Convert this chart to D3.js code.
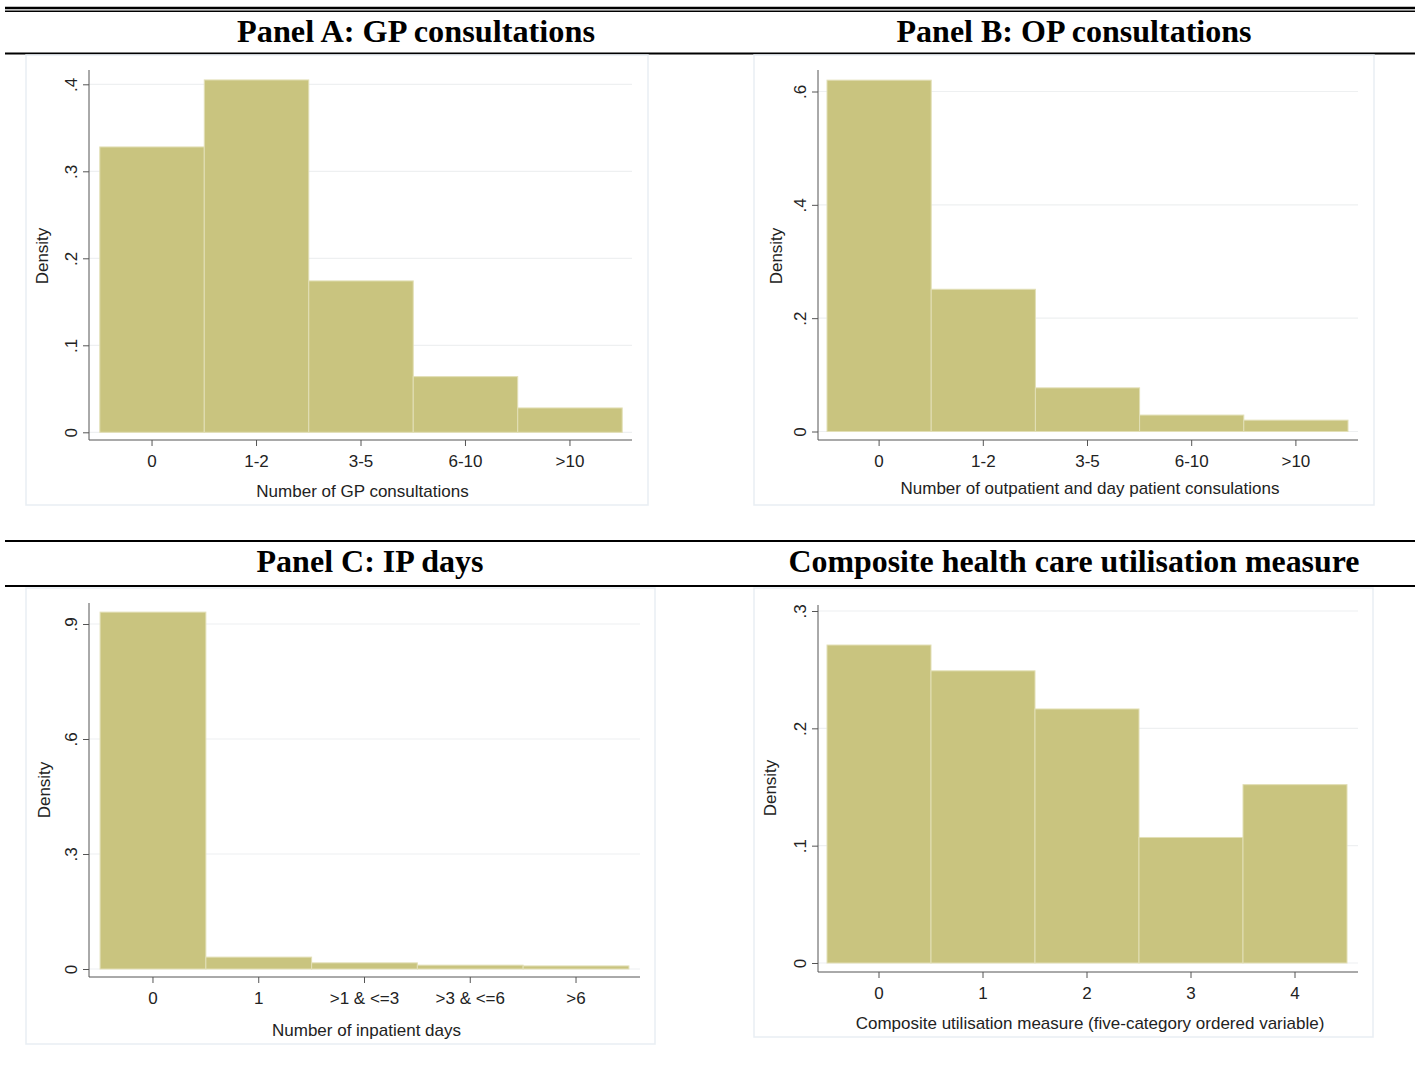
<!DOCTYPE html>
<html lang="en">
<head>
<meta charset="UTF-8">
<title>Health care utilisation histograms</title>
<script src="https://d3js.org/d3.v7.min.js"></script>
<style>
    body { margin: 0; background: #fff; }
    svg { display: block; }
    .panel-title { font-family: "Liberation Serif", "Times New Roman", serif; font-weight: bold; font-size: 31px; fill: #000; }
    .axis text, .axis-title { font-family: "Liberation Sans", Arial, sans-serif; font-size: 17px; fill: #222; }
    .bar { fill: #c9c47f; stroke: #e2dfb6; stroke-width: 1; }
    .grid line { stroke: #eef0f1; stroke-width: 1.2; }
    .axis line { stroke: #555; }
</style>
</head>
<body>
<svg id="fig" width="1424" height="1078"></svg>
<script>
// data
const gpCats = ["0", "1-2", "3-5", "6-10", ">10"];
const gpDensity = [0.328, 0.405, 0.174, 0.064, 0.028];
const gpTicks = [0, 0.1, 0.2, 0.3, 0.4];

const opCats = ["0", "1-2", "3-5", "6-10", ">10"];
const opDensity = [0.620, 0.251, 0.077, 0.029, 0.020];
const opTicks = [0, 0.2, 0.4, 0.6];

const ipCats = ["0", "1", ">1 & <=3", ">3 & <=6", ">6"];
const ipDensity = [0.931, 0.031, 0.016, 0.010, 0.008];
const ipTicks = [0, 0.3, 0.6, 0.9];

const compCats = ["0", "1", "2", "3", "4"];
const compDensity = [0.271, 0.249, 0.2165, 0.107, 0.152];
const compTicks = [0, 0.1, 0.2, 0.3];

const fmt = v => v === 0 ? "0" : d3.format(".1f")(v).replace(/^0/, "");

const svg = d3.select("#fig");

// table rules
const rules = [
    {y: 8, w: 2.6}, {y: 11.3, w: 1.4},
    {y: 53.5, w: 1.8},
    {y: 541, w: 2}, {y: 586, w: 1.8}
];
svg.selectAll(".rule").data(rules).enter().append("line")
    .attr("x1", 5).attr("x2", 1415)
    .attr("y1", d => d.y).attr("y2", d => d.y)
    .attr("stroke", "#000").attr("stroke-width", d => d.w);

const panels = [
    {title: "Panel A: GP consultations", tx: 416, ty: 42, tlen: 358,
     cats: gpCats, vals: gpDensity, ticks: gpTicks, ymax: 0.4,
     xlab: "Number of GP consultations",
     box: [26, 55, 648, 505], axisX: 89, axisY: 440, axisTop: 70, axisRight: 632,
     y0: 432.3, yTop: 84.3, barL: 99.8, barR: 622.2, xlabY: 497, denX: 48, denY: 256},
    {title: "Panel B: OP consultations", tx: 1074, ty: 42, tlen: 355,
     cats: opCats, vals: opDensity, ticks: opTicks, ymax: 0.6,
     xlab: "Number of outpatient and day patient consulations",
     box: [754, 55, 1374, 505], axisX: 818, axisY: 440, axisTop: 70, axisRight: 1358,
     y0: 431.5, yTop: 91.5, barL: 827, barR: 1348, xlabY: 494, denX: 782, denY: 256},
    {title: "Panel C: IP days", tx: 370, ty: 572, tlen: 227,
     cats: ipCats, vals: ipDensity, ticks: ipTicks, ymax: 0.9,
     xlab: "Number of inpatient days",
     box: [26, 588, 655, 1044], axisX: 89, axisY: 977, axisTop: 603, axisRight: 640,
     y0: 969, yTop: 624, barL: 100.1, barR: 628.9, xlabY: 1036, denX: 50, denY: 790},
    {title: "Composite health care utilisation measure", tx: 1074, ty: 572, tlen: 571,
     cats: compCats, vals: compDensity, ticks: compTicks, ymax: 0.3,
     xlab: "Composite utilisation measure (five-category ordered variable)",
     box: [754, 588, 1373, 1037], axisX: 818, axisY: 972, axisTop: 605, axisRight: 1358,
     y0: 963, yTop: 611, barL: 827, barR: 1347, xlabY: 1029, denX: 776, denY: 788}
];

panels.forEach(p => {
    svg.append("text")
        .attr("class", "panel-title")
        .attr("x", p.tx).attr("y", p.ty)
        .attr("text-anchor", "middle")
        .attr("textLength", p.tlen)
        .attr("lengthAdjust", "spacingAndGlyphs")
        .text(p.title);

    // graph region
    svg.append("rect")
        .attr("x", p.box[0]).attr("y", p.box[1])
        .attr("width", p.box[2] - p.box[0]).attr("height", p.box[3] - p.box[1])
        .attr("fill", "#fff").attr("stroke", "#e9eef3").attr("stroke-width", 1.5);

    const x = d3.scaleBand().domain(p.cats).range([p.barL, p.barR]).padding(0);
    const y = d3.scaleLinear().domain([0, p.ymax]).range([p.y0, p.yTop]);

    const g = svg.append("g");

    g.append("g").attr("class", "grid")
        .selectAll("line").data(p.ticks).enter().append("line")
        .attr("x1", p.axisX).attr("x2", p.axisRight)
        .attr("y1", d => y(d)).attr("y2", d => y(d));

    g.selectAll(".bar").data(p.cats).enter().append("rect")
        .attr("class", "bar")
        .attr("x", d => x(d))
        .attr("width", x.bandwidth())
        .attr("y", (d, i) => y(p.vals[i]))
        .attr("height", (d, i) => y(0) - y(p.vals[i]));

    // y axis
    const ya = g.append("g").attr("class", "axis")
        .attr("transform", `translate(${p.axisX},0)`)
        .call(d3.axisLeft(y).tickValues(p.ticks).tickFormat(fmt).tickSize(6));
    ya.select(".domain").remove();
    ya.selectAll(".tick text")
        .attr("x", null).attr("dy", null)
        .attr("text-anchor", "middle")
        .attr("transform", "translate(-12,0) rotate(-90)");
    ya.append("line").attr("x1", 0).attr("x2", 0)
        .attr("y1", p.axisTop).attr("y2", p.axisY);

    // x axis
    const xa = g.append("g").attr("class", "axis")
        .attr("transform", `translate(0,${p.axisY})`)
        .call(d3.axisBottom(x).tickSize(6).tickPadding(9));
    xa.select(".domain").remove();
    xa.append("line").attr("x1", p.axisX).attr("x2", p.axisRight)
        .attr("y1", 0).attr("y2", 0);

    g.append("text").attr("class", "axis-title")
        .attr("x", (p.axisX + p.axisRight) / 2 + 2).attr("y", p.xlabY)
        .attr("text-anchor", "middle")
        .text(p.xlab);

    g.append("text").attr("class", "axis-title")
        .attr("transform", `translate(${p.denX},${p.denY}) rotate(-90)`)
        .attr("text-anchor", "middle")
        .text("Density");
});
</script>
</body>
</html>
